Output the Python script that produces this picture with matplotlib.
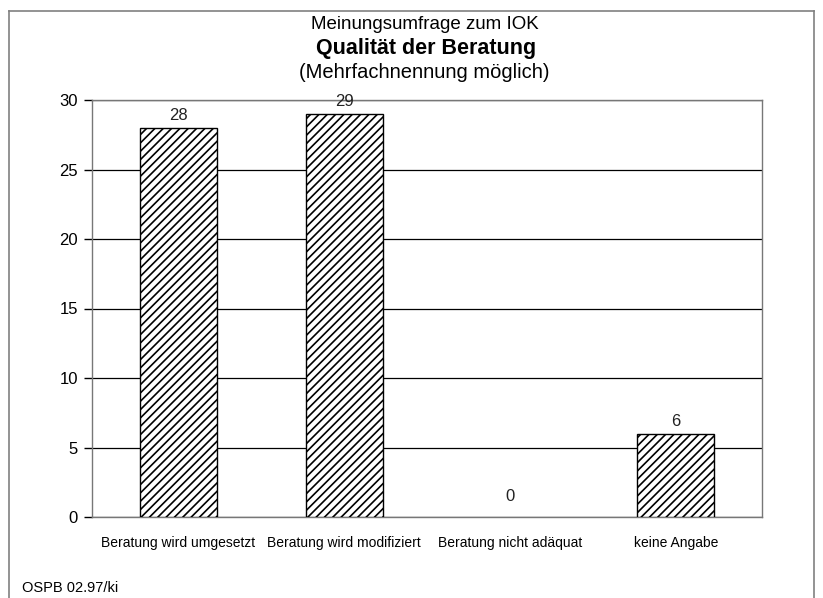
import matplotlib.pyplot as plt
from matplotlib.lines import Line2D

plt.rcParams["font.family"] = ["Liberation Sans", "DejaVu Sans"]
plt.rcParams["hatch.linewidth"] = 1.2

kategorien = ["Beratung wird umgesetzt", "Beratung wird modifiziert",
              "Beratung nicht adäquat", "keine Angabe"]
anzahl = [28, 29, 0, 6]
y_ticks = [0, 5, 10, 15, 20, 25, 30]

W, H = 823, 598
fig = plt.figure(figsize=(W / 100, H / 100), dpi=100)
ax = fig.add_axes([92 / W, 1 - 517 / H, 670 / W, 417 / H])

x = list(range(len(kategorien)))
for xi, v in zip(x, anzahl):
    if v > 0:
        ax.bar(xi, v, width=0.465, color="white", edgecolor="black",
               hatch="////", linewidth=1.0, zorder=3)
    ax.text(xi, v + 0.35 if v > 0 else 0.9, str(v), ha="center", va="bottom",
            fontsize=12, color="#222222", zorder=4)

ax.set_ylim(0, 30)
ax.set_xlim(-0.52, len(kategorien) - 0.48)
ax.set_yticks(y_ticks)
ax.set_yticklabels([str(t) for t in y_ticks], fontsize=12)
ax.set_xticks(x)
ax.set_xticklabels(kategorien, fontsize=10)
ax.tick_params(axis="x", length=0, pad=14)
ax.tick_params(axis="y", length=6, width=1.0, color="black", pad=4)
ax.yaxis.grid(True, color="black", linewidth=0.9, zorder=0)
ax.set_axisbelow(True)
for s in ax.spines.values():
    s.set_color("#777777")
    s.set_linewidth(1.0)

# Titel
fig.text(425 / W, 1 - 29 / H, "Meinungsumfrage zum IOK", ha="center",
         va="baseline", fontsize=13.5)
fig.text(426 / W, 1 - 54 / H, "Qualität der Beratung", ha="center",
         va="baseline", fontsize=15.5, fontweight="bold")
fig.text(424 / W, 1 - 78 / H, "(Mehrfachnennung möglich)", ha="center",
         va="baseline", fontsize=14.5)
fig.text(22 / W, 1 - 592 / H, "OSPB 02.97/ki", ha="left", va="baseline",
         fontsize=10.5)

# Rahmen, unten offen
rahmen = dict(color="#808080", linewidth=1.2, transform=fig.transFigure)
fig.add_artist(Line2D([9 / W, 9 / W], [0, 1 - 11 / H], **rahmen))
fig.add_artist(Line2D([814 / W, 814 / W], [0, 1 - 11 / H], **rahmen))
fig.add_artist(Line2D([9 / W, 814 / W], [1 - 11 / H, 1 - 11 / H], **rahmen))

fig.savefig("out.png", dpi=100)
